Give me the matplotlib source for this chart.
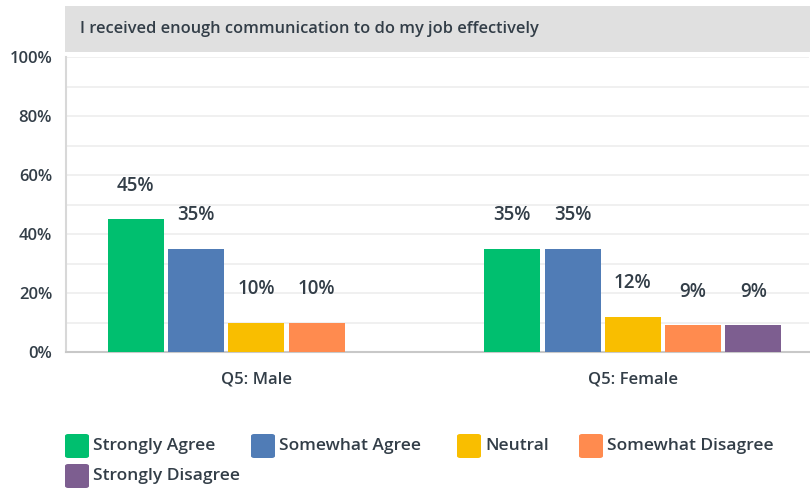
import matplotlib.pyplot as plt
import matplotlib.patches as mpatches
import numpy as np

plt.rcParams['font.family'] = ['Open Sans', 'DejaVu Sans']

question = 'I received enough communication to do my job effectively'
groups = ['Q5: Male', 'Q5: Female']
answers = ['Strongly Agree', 'Somewhat Agree', 'Neutral', 'Somewhat Disagree', 'Strongly Disagree']
male = [45, 35, 10, 10, 0]
female = [35, 35, 12, 9, 9]
colors = ['#00BF6F', '#507CB6', '#F9BE00', '#FF8B4F', '#7D5E90']
text_color = '#333E48'

fig = plt.figure(figsize=(8.1, 4.91), dpi=100)
W, H = 810, 491

# plot area in pixel terms
ax = fig.add_axes([66 / W, 1 - 352 / H, (809 - 66) / W, (352 - 57) / H])

# grey question banner
fig.patches.append(mpatches.Rectangle((65 / W, 1 - 52 / H), (810 - 65) / W, 46 / H,
                                      transform=fig.transFigure, facecolor='#E0E0E0',
                                      edgecolor='none', zorder=0))
fig.text(80 / W, 1 - 29 / H, question, fontsize=11.8, fontweight='semibold',
         color=text_color, va='center', ha='left')

pitch = 0.1602
width = 0.1487
x = np.arange(len(groups))
for i, ans in enumerate(answers):
    vals = [male[i], female[i]]
    pos = x + (i - 2) * pitch
    ax.bar(pos, vals, width=width, color=colors[i], zorder=3)
    for p, v in zip(pos, vals):
        if v > 0:
            ax.text(p, v + 8, f'{v}%', ha='center', va='bottom', fontsize=13.5,
                    color=text_color, fontweight='semibold')

ax.set_ylim(0, 100)
ax.set_xlim(-0.506, 1.468)
ax.set_yticks(range(0, 101, 20))
ax.set_yticklabels([f'{t}%' for t in range(0, 101, 20)])
ax.set_yticks(range(10, 100, 20), minor=True)
ax.grid(axis='y', which='both', color='#EDEDED', linewidth=1.2, zorder=0)
ax.set_xticks(x)
ax.set_xticklabels(groups)
ax.tick_params(axis='both', which='both', length=0, labelsize=12, colors=text_color)
ax.tick_params(axis='x', pad=14)
ax.tick_params(axis='y', pad=10)
for lab in ax.get_yticklabels() + ax.get_xticklabels():
    lab.set_fontweight('semibold')
for s in ['top', 'right']:
    ax.spines[s].set_visible(False)
ax.spines['left'].set_color('#D8D8D8')
ax.spines['left'].set_linewidth(1.5)
ax.spines['bottom'].set_color('#C8C8C8')
ax.spines['bottom'].set_linewidth(1.5)

# legend laid out in two rows
legend_pos = [(65, 446), (251, 446), (457, 446), (579, 446), (65, 476)]
for (lx, ly), ans, c in zip(legend_pos, answers, colors):
    fig.patches.append(mpatches.FancyBboxPatch((lx / W, 1 - (ly + 12) / H), 24 / W, 24 / H,
                                               boxstyle='round,pad=0,rounding_size=0.004',
                                               transform=fig.transFigure, facecolor=c,
                                               edgecolor='none'))
    fig.text((lx + 28) / W, 1 - ly / H, ans, fontsize=12.5, fontweight='semibold',
             color=text_color, va='center', ha='left')

fig.savefig('out.png', dpi=100)
